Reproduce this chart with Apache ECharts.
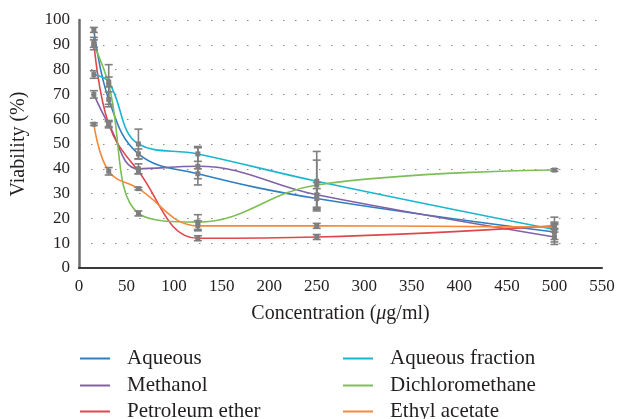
<!DOCTYPE html>
<html>
<head>
<meta charset="utf-8">
<script src="https://cdn.jsdelivr.net/npm/echarts@6/dist/echarts.min.js"></script>
<style>
  html, body { margin: 0; padding: 0; background: #fff; }
  #chart { width: 622px; height: 419px; }
</style>
</head>
<body>
<div id="chart"></div>
<script>
// Extract concentrations (µg/ml)
var concentrations = [15.625, 31.25, 62.5, 125, 250, 500];

// Mean viability (%) per extract
var aqueous          = [96, 68, 46, 38, 28, 14.5];
var methanol         = [70, 58, 40, 41, 29.5, 12.5];
var petroleumEther   = [91, 58, 39, 12, 12.5, 17];
var aqueousFraction  = [78, 75, 50, 46, 35, 15.5];
var dichloromethane  = [90, 74, 22, 18.5, 33.5, 39.5];
var ethylAcetate     = [58, 39, 32, 17, 17, 16.5];

// Standard deviations (%)
var aqueousErr          = [1, 3, 2, 2, 4, 3];
var methanolErr         = [1.5, 1.5, 2, 7.5, 5, 3];
var petroleumEtherErr   = [2, 1, 1, 1, 1, 1];
var aqueousFractionErr  = [1.5, 2, 6, 3, 12, 5];
var dichloromethaneErr  = [2, 8, 1, 3, 10, 0.5];
var ethylAcetateErr     = [0.5, 1.5, 0.5, 2, 1, 2];

var xTicks = [0, 50, 100, 150, 200, 250, 300, 350, 400, 450, 500, 550];
var yTicks = [0, 10, 20, 30, 40, 50, 60, 70, 80, 90, 100];

var extracts = [
  { name: 'Aqueous',          values: aqueous,         err: aqueousErr,         color: '#2f7ec2' },
  { name: 'Methanol',         values: methanol,        err: methanolErr,        color: '#8062a8' },
  { name: 'Petroleum ether',  values: petroleumEther,  err: petroleumEtherErr,  color: '#e0474c' },
  { name: 'Aqueous fraction', values: aqueousFraction, err: aqueousFractionErr, color: '#1ab6cf' },
  { name: 'Dichloromethane',  values: dichloromethane, err: dichloromethaneErr, color: '#7cbf57' },
  { name: 'Ethyl acetate',    values: ethylAcetate,    err: ethylAcetateErr,    color: '#f28a3c' }
];

var FONT = '"Liberation Serif", "DejaVu Serif", serif';
var TEXT = '#231f20';
var GREY = '#7f7f7f';

var series = [];
extracts.forEach(function (e) {
  series.push({
    name: e.name,
    type: 'line',
    smooth: 0.4,
    symbol: 'none',
    lineStyle: { color: e.color, width: 1.6 },
    itemStyle: { color: e.color },
    z: 2,
    data: concentrations.map(function (c, i) { return [c, e.values[i]]; })
  });
});

// Error bars with caps and a small grey marker at the mean
extracts.forEach(function (e) {
  series.push({
    type: 'custom',
    name: e.name + ' SD',
    z: 5,
    silent: true,
    renderItem: function (params, api) {
      var x = api.value(0), m = api.value(1), lo = api.value(2), hi = api.value(3);
      var pHi = api.coord([x, hi]);
      var pLo = api.coord([x, lo]);
      var pM = api.coord([x, m]);
      var cap = 4;
      var st = { stroke: GREY, lineWidth: 1.6 };
      return {
        type: 'group',
        children: [
          { type: 'line', shape: { x1: pHi[0], y1: pHi[1], x2: pLo[0], y2: pLo[1] }, style: st },
          { type: 'line', shape: { x1: pHi[0] - cap, y1: pHi[1], x2: pHi[0] + cap, y2: pHi[1] }, style: st },
          { type: 'line', shape: { x1: pLo[0] - cap, y1: pLo[1], x2: pLo[0] + cap, y2: pLo[1] }, style: st },
          { type: 'rect', shape: { x: pM[0] - 2.5, y: pM[1] - 2.5, width: 5, height: 5 }, style: { fill: GREY } }
        ]
      };
    },
    data: concentrations.map(function (c, i) {
      return [c, e.values[i], e.values[i] - e.err[i], e.values[i] + e.err[i]];
    })
  });
});

// Two columns of three legend entries, one legend block per entry
var legendCols = [80, 343];
var legendRows = [348, 375, 401];
var legends = extracts.map(function (e, i) {
  return {
    left: legendCols[Math.floor(i / 3)],
    top: legendRows[i % 3],
    itemWidth: 30,
    itemHeight: 2,
    selectedMode: false,
    padding: 0,
    textStyle: { fontFamily: FONT, fontSize: 21, color: TEXT, padding: [0, 0, 0, 12] },
    data: [{ name: e.name, icon: 'rect', itemStyle: { color: e.color } }]
  };
});

var chart = echarts.init(document.getElementById('chart'), null, { renderer: 'canvas' });
chart.setOption({
  animation: false,
  backgroundColor: '#ffffff',
  grid: { left: 79, right: 20, top: 20, bottom: 151, containLabel: false, outerBoundsMode: 'none' },
  xAxis: {
    type: 'value',
    min: xTicks[0],
    max: xTicks[xTicks.length - 1],
    interval: 50,
    name: 'Concentration ({i|μ}g/ml)',
    nameLocation: 'middle',
    nameGap: 36,
    nameTextStyle: {
      fontFamily: FONT, fontSize: 20, color: TEXT,
      rich: { i: { fontFamily: FONT, fontSize: 20, fontStyle: 'italic', color: TEXT } }
    },
    axisLine: { show: true, lineStyle: { color: '#3a3a3a', width: 2 } },
    axisTick: { show: false },
    splitLine: { show: false },
    axisLabel: { fontFamily: FONT, fontSize: 17, color: TEXT, margin: 10 }
  },
  yAxis: {
    type: 'value',
    min: yTicks[0],
    max: yTicks[yTicks.length - 1],
    interval: 10,
    name: 'Viability (%)',
    nameLocation: 'middle',
    nameGap: 50,
    nameTextStyle: { fontFamily: FONT, fontSize: 20, color: TEXT },
    axisLine: { show: true, lineStyle: { color: '#6d6d6d', width: 2.5 } },
    axisTick: { show: false },
    splitLine: { show: true, lineStyle: { color: '#8a8a8a', width: 1.2, type: [1.5, 10.5] } },
    axisLabel: { fontFamily: FONT, fontSize: 17, color: TEXT, margin: 9 }
  },
  legend: legends,
  series: series
});
</script>
</body>
</html>
